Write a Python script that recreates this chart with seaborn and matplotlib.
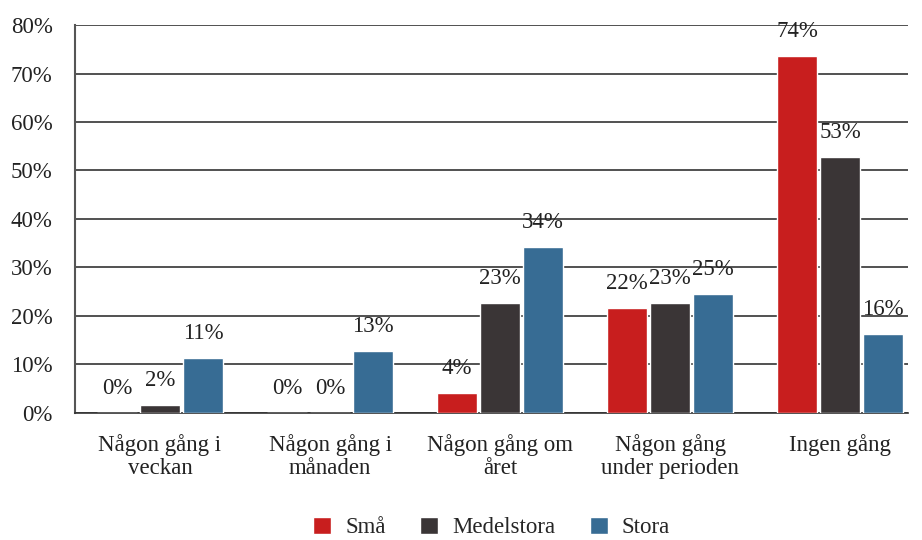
import numpy as np
import pandas as pd
import matplotlib.pyplot as plt
import seaborn as sns

categories = ['Någon gång i\nveckan', 'Någon gång i\nmånaden', 'Någon gång om\nåret',
              'Någon gång\nunder perioden', 'Ingen gång']
groups = ['Små', 'Medelstora', 'Stora']
sma = [0.0, 0.0, 4.1, 21.6, 73.6]
medel = [1.6, 0.0, 22.7, 22.7, 52.8]
stora = [11.3, 12.8, 34.2, 24.6, 16.3]
colors = ['#C81E1E', '#3A3536', '#376C94']

df = pd.DataFrame({
    'cat': categories * 3,
    'grp': [g for g in groups for _ in categories],
    'val': sma + medel + stora,
})

sns.set_style('white')
plt.rcParams['font.family'] = ['Liberation Serif', 'DejaVu Serif']

fig = plt.figure(figsize=(9.22, 5.4), dpi=100)
ax = fig.add_axes([0.0813, 0.2352, 0.9037, 0.7185])

sns.barplot(data=df, x='cat', y='val', hue='grp', palette=colors, saturation=1,
            width=0.76, gap=0.06, edgecolor='white', linewidth=1, ax=ax, zorder=3)

for cont in ax.containers:
    for bar in cont:
        h = bar.get_height()
        ax.annotate(f'{h:.0f}%', (bar.get_x() + bar.get_width() / 2, h),
                    xytext=(0, 10), textcoords='offset points',
                    ha='center', va='bottom', fontsize=16.5, color='#222222')

ax.set_ylim(0, 80)
ax.set_yticks(np.arange(0, 81, 10))
ax.set_yticklabels([f'{t}%' for t in range(0, 81, 10)])
ax.set_xlim(-0.5, 4.4)
ax.yaxis.grid(True, color='#333333', linewidth=1.2, zorder=0)
ax.set_axisbelow(True)
for s in ['top', 'right']:
    ax.spines[s].set_visible(False)
ax.spines['left'].set_color('#555555')
ax.spines['left'].set_linewidth(1.5)
ax.spines['bottom'].set_color('#333333')
ax.spines['bottom'].set_linewidth(1.2)
ax.tick_params(axis='both', length=0, labelsize=16.5, colors='#222222')
ax.tick_params(axis='y', pad=16)
ax.tick_params(axis='x', pad=15)
for lbl in ax.get_xticklabels():
    lbl.set_linespacing(1.15)
ax.set_xlabel('')
ax.set_ylabel('')

ax.legend(loc='center', bbox_to_anchor=(0.5, -0.295), ncol=3, frameon=False,
          fontsize=16.5, handlelength=0.8, handleheight=0.8, columnspacing=1.5,
          handletextpad=0.6)

fig.savefig('out.png', dpi=100)
